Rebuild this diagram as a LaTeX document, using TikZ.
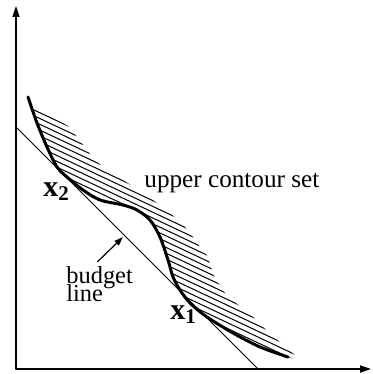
\documentclass[tikz,border=0pt]{standalone}
\usepackage{fontspec}
\setmainfont{Liberation Serif}
\usetikzlibrary{arrows.meta}

\begin{document}
\begin{tikzpicture}[x=0.5pt,y=-0.5pt,>={Triangle[length=5.5pt,width=3.6pt]},line join=round,line cap=round]
    \useasboundingbox (0,0) rectangle (372,374);
    % axes
    \draw[line width=0.6pt,->] (16,369)--(16,6);
    \draw[line width=0.6pt,->] (16,369)--(371,369);
    % budget line
    \draw[line width=0.5pt] (16,127)--(258,369);
    % hatching of the upper contour set
    \begin{scope}
      \clip plot[smooth] coordinates {(28,97) (37,123) (47,147) (57,167) (67,177) (83,190) (100,200) (123,205) (137,210) (150,220) (160,237) (168,260) (173,277) (180,290) (190,303) (207,317) (233,333) (260,347) (288,357)}
        -- (303,362) -- (282,344) -- (267,331) -- (252,316) -- (237,304) -- (223,291) -- (213,274) -- (208,257) -- (200,247) -- (188,230) -- (172,215) -- (153,200) -- (120,178) -- (108,172) -- (92,157) -- (83,145) -- (77,137) -- (68,126) -- (31,104) -- cycle;
      \foreach \c in {94,99.8,...,222}
        \draw[line width=0.5pt] (0,\c)--(400,\c+188);
    \end{scope}
    % indifference curve
    \draw[line width=1.5pt] plot[smooth] coordinates {(28,97) (37,123) (47,147) (57,167) (67,177) (83,190) (100,200) (123,205) (137,210) (150,220) (160,237) (168,260) (173,277) (180,290) (190,303) (207,317) (233,333) (260,347) (288,357)};
    % labels
    \node[anchor=base west,inner sep=0,font=\fontsize{12.6}{14}\selectfont] (ucs) at (144,187) {upper contour set};
    \node[anchor=base west,inner sep=0,font=\fontsize{15}{18}\selectfont\bfseries] (x2) at (43,196) {x\textsubscript{2}};
    \node[anchor=base west,inner sep=0,font=\fontsize{15}{18}\selectfont\bfseries] (x1) at (170,319) {x\textsubscript{1}};
    \node[anchor=base west,inner sep=0,font=\fontsize{12.2}{14}\selectfont] (bud) at (66,283) {budget};
    \node[anchor=base west,inner sep=0,font=\fontsize{12.2}{14}\selectfont] (lin) at (66,301) {line};
    \coordinate (bl) at (123,237);
    \draw[line width=0.6pt,-{Triangle[length=4.5pt,width=3pt]}] ([xshift=-1pt,yshift=2pt]bud.north) -- (bl);
  \end{tikzpicture}
\end{document}
